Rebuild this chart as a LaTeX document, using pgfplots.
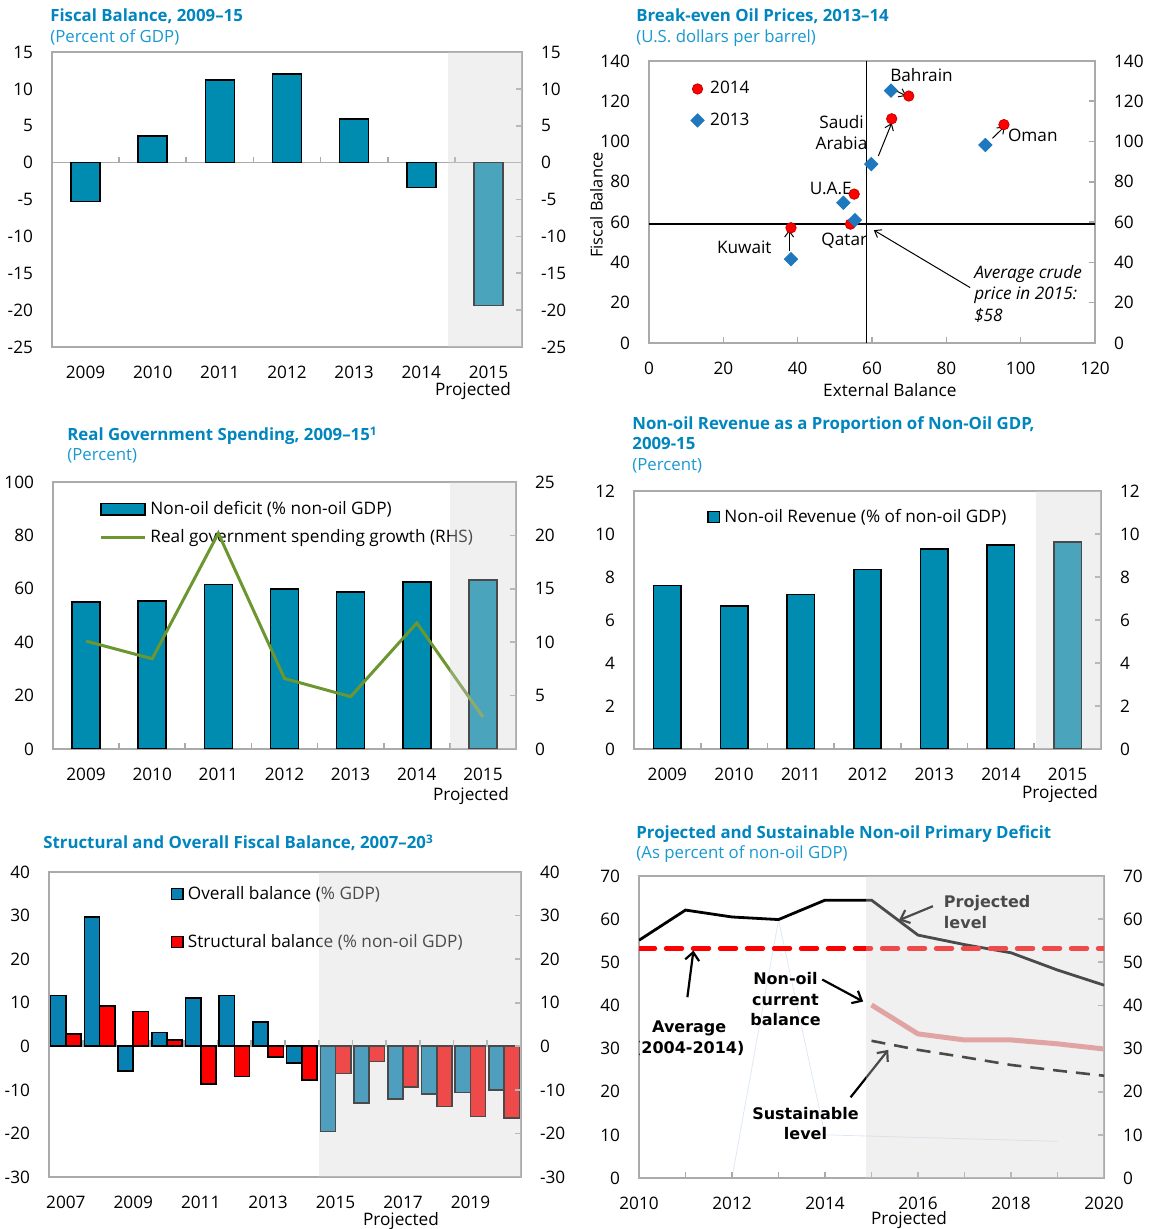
\documentclass[border=0pt]{standalone}
\usepackage{fontspec}
\setmainfont{Open Sans}
\newfontfamily\annfont{DejaVu Sans}
\usepackage{pgfplots}
\pgfplotsset{compat=1.18}
\usetikzlibrary{arrows.meta}

\definecolor{barblue}{RGB}{0,139,176}
\definecolor{barblue2}{RGB}{8,130,178}
\definecolor{axgray}{RGB}{170,170,170}
\definecolor{titleblue}{RGB}{0,133,190}
\definecolor{subblue}{RGB}{25,152,208}
\definecolor{shadec}{RGB}{212,212,212}
\definecolor{sgreen}{RGB}{108,150,48}
\definecolor{dblue}{RGB}{30,120,190}
\definecolor{pinkl}{RGB}{232,139,139}
\definecolor{faint}{RGB}{222,232,244}
\definecolor{dred}{RGB}{200,0,0}

\newcommand{\tfont}{\fontsize{8.4}{10}\selectfont\bfseries}
\newcommand{\sfont}{\fontsize{8.4}{10}\selectfont}
\newcommand{\afont}{\annfont\bfseries\fontsize{8}{10.3}\selectfont}

\tikzset{mylegend/.style={draw=none, fill=none, inner sep=0pt, font=\fontsize{8.6}{10}\selectfont}}

\pgfplotsset{
  base/.style={scale only axis, anchor=south west, font=\fontsize{8.6}{10}\selectfont,
    /pgf/number format/assume math mode=true, tick align=inside},
  mainax/.style={base, axis line style={axgray, line width=0.8pt}, major tick length=0pt,
    minor tick length=0pt, yticklabel pos=left, ytick pos=left, xtick pos=bottom,
    yticklabel style={xshift=-6pt}, xticklabel style={yshift=-6pt}, legend cell align=left},
  rightax/.style={base, axis line style={draw=none}, major tick length=3pt,
    tick style={axgray, line width=0.8pt}, ytick pos=right, yticklabel pos=right,
    yticklabel style={xshift=6pt}, xtick pos=bottom, xtick=\empty, xticklabels={}},
  widebar/.style={legend image code/.code={\draw[##1] (0pt,-2.9pt) rectangle (22pt,2.9pt);}},
  sqbar/.style={legend image code/.code={\draw[##1] (0pt,-2.7pt) rectangle (5.8pt,2.7pt);}},
  wideline/.style={legend image code/.code={\draw[##1] (0pt,0pt) -- (22pt,0pt);}},
  dotleg/.style={legend image code/.code={\draw[mark repeat=2,mark phase=2,##1] plot coordinates {(0pt,0pt) (3pt,0pt) (6pt,0pt)};}},
}
\tikzset{shade/.style={fill=shadec, fill opacity=0.353, draw=none}}

\begin{document}
\begin{tikzpicture}
\useasboundingbox (0,0) rectangle (574pt,614.5pt);

% ---------- titles ----------
\node[anchor=base west, inner sep=0pt, text=titleblue, font=\tfont] at (25pt,603.5pt) {Fiscal Balance, 2009--15};
\node[anchor=base west, inner sep=0pt, text=subblue, font=\sfont] at (25pt,593pt) {(Percent of GDP)};
\node[anchor=base west, inner sep=0pt, text=titleblue, font=\tfont] at (318pt,603.5pt) {Break-even Oil Prices, 2013--14};
\node[anchor=base west, inner sep=0pt, text=subblue, font=\sfont] at (318pt,593pt) {(U.S. dollars per barrel)};
\node[anchor=base west, inner sep=0pt, text=titleblue, font=\tfont] at (33.5pt,394pt) {Real Government Spending, 2009--15\textsuperscript{1}};
\node[anchor=base west, inner sep=0pt, text=subblue, font=\sfont] at (33.5pt,384pt) {(Percent)};
\node[anchor=base west, inner sep=0pt, text=titleblue, font=\tfont] at (316pt,399.5pt) {Non-oil Revenue as a Proportion of Non-Oil GDP,};
\node[anchor=base west, inner sep=0pt, text=titleblue, font=\tfont] at (316pt,389.5pt) {2009-15};
\node[anchor=base west, inner sep=0pt, text=subblue, font=\sfont] at (316pt,379pt) {(Percent)};
\node[anchor=base west, inner sep=0pt, text=titleblue, font=\tfont] at (21.5pt,190pt) {Structural and Overall Fiscal Balance, 2007--20\textsuperscript{3}};
\node[anchor=base west, inner sep=0pt, text=titleblue, font=\tfont] at (318pt,195pt) {Projected and Sustainable Non-oil Primary Deficit};
\node[anchor=base west, inner sep=0pt, text=subblue, font=\sfont] at (318pt,185pt) {(As percent of non-oil GDP)};

% ---------- Panel 1 ----------
\begin{axis}[mainax, at={(26pt,441pt)}, width=235pt, height=147.5pt,
  xmin=-0.5, xmax=6.5, ymin=-25, ymax=15, ytick={-25,-20,...,15},
  xtick={0,...,6}, xticklabels={2009,2010,2011,2012,2013,2014,2015}]
\draw[axgray, line width=0.8pt] (axis cs:-0.5,0) -- (axis cs:6.5,0);
\pgfplotsinvokeforeach{0.5,1.5,2.5,3.5,4.5,5.5}{\draw[axgray, line width=0.8pt] (axis cs:#1,0) -- ++(0pt,3pt);}
\addplot[ybar, bar width=14.5pt, fill=barblue, draw=black, line width=0.8pt]
  coordinates {(0,-5.3) (1,3.6) (2,11.2) (3,12.0) (4,5.9) (5,-3.4) (6,-19.4)};
\end{axis}
\begin{axis}[rightax, at={(26pt,441pt)}, width=235pt, height=147.5pt,
  xmin=-0.5, xmax=6.5, ymin=-25, ymax=15, ytick={-25,-20,...,15}]
\addplot[draw=none] coordinates {(0,0)};
\fill[shade] (axis cs:5.4,-25) rectangle (axis cs:6.5,15);
\end{axis}
\node[font=\fontsize{8.6}{10}\selectfont] at (236.5pt,419pt) {Projected};

% ---------- Panel 2 ----------
\begin{axis}[mainax, at={(324.5pt,443pt)}, width=223pt, height=141pt,
  xmin=0, xmax=120, ymin=0, ymax=140, xtick={0,20,...,120}, ytick={0,20,...,140},
  xlabel={External Balance}, ylabel={Fiscal Balance},
  xlabel style={at={(axis description cs:0.540,-0.1667)}, anchor=center},
  ylabel style={at={(axis description cs:-0.118,0.49)}, anchor=center, font=\fontsize{8.2}{10}\selectfont},
  legend style={mylegend, at={(0.093,0.845)}, anchor=west, row sep=4pt, column sep=1pt}]
\draw[black, line width=0.9pt] (axis cs:58.5,0) -- (axis cs:58.5,140);
\draw[black, line width=0.9pt] (axis cs:0,59) -- (axis cs:120,59);
\addplot[only marks, mark=*, mark size=2.6pt, mark options={fill=red, draw=dred, line width=0.4pt}, dotleg]
  coordinates {(69.9,122.6) (65.3,111.3) (95.5,108.4) (55.2,73.9) (54.2,59.0) (38.2,57.2)};
\addlegendentry{2014}
\addplot[only marks, mark=square*, mark size=2.35pt, mark options={rotate=45, fill=dblue, draw=dblue}, dotleg]
  coordinates {(65.1,125.3) (59.8,88.8) (90.5,98.3) (52.3,69.6) (55.4,61.0) (38.2,41.6)};
\addlegendentry{2013}
\node[anchor=west, inner sep=0pt] at (axis cs:64.8,133.1) {Bahrain};
\node[align=center, inner sep=0pt, font=\fontsize{8.6}{10.5}\selectfont] at (axis cs:51.8,104.6) {Saudi\\Arabia};
\node[anchor=west, inner sep=0pt] at (axis cs:96.5,103.2) {Oman};
\node[anchor=west, inner sep=0pt] at (axis cs:43.2,76.7) {U.A.E.};
\node[anchor=west, inner sep=0pt] at (axis cs:46.3,50.7) {Qatar};
\node[anchor=west, inner sep=0pt] at (axis cs:18.2,47.7) {Kuwait};
\node[anchor=west, inner sep=0pt, align=left, font=\fontsize{8.6}{10.7}\selectfont\itshape] at (axis cs:87.4,24.5) {Average crude\\price in 2015:\\\$58};
\draw[-{Straight Barb[length=3pt,width=4.5pt]}, line width=0.5pt] (axis cs:65.3,126.3) -- (axis cs:69.2,122.7);
\draw[-{Straight Barb[length=3pt,width=4.5pt]}, line width=0.5pt] (axis cs:61.7,92.8) -- (axis cs:65.3,109.2);
\draw[-{Straight Barb[length=3pt,width=4.5pt]}, line width=0.5pt] (axis cs:92.4,101.6) -- (axis cs:95.7,107.5);
\draw[-{Straight Barb[length=3pt,width=4.5pt]}, line width=0.5pt] (axis cs:37.7,45.5) -- (axis cs:37.7,56.0);
\draw[-{Straight Barb[length=3pt,width=4.5pt]}, line width=0.5pt] (axis cs:86.4,27.5) -- (axis cs:60.5,56.0);
\end{axis}
\begin{axis}[rightax, at={(324.5pt,443pt)}, width=223pt, height=141pt,
  xmin=0, xmax=120, ymin=0, ymax=140, ytick={0,20,...,140}, xtick={0,20,...,120}]
\addplot[draw=none] coordinates {(0,0)};
\end{axis}

% ---------- Panel 3 ----------
\begin{axis}[mainax, at={(26.5pt,240pt)}, width=231.5pt, height=133.5pt,
  xmin=-0.5, xmax=6.5, ymin=0, ymax=100, ytick={0,20,...,100},
  xtick={0,...,6}, xticklabels={2009,2010,2011,2012,2013,2014,2015},
  legend style={mylegend, at={(0.0994,0.845)}, anchor=west, row sep=2pt, column sep=0pt}]
\addplot[ybar, bar width=14pt, fill=barblue, draw=black, line width=0.8pt, widebar]
  coordinates {(0,55.0) (1,55.5) (2,61.6) (3,59.9) (4,58.9) (5,62.6) (6,63.2)};
\addlegendentry{Non-oil deficit (\% non-oil GDP)}
\addlegendimage{sgreen, line width=1.5pt, wideline}
\addlegendentry{Real government spending growth (RHS)}
\end{axis}
\begin{axis}[rightax, at={(26.5pt,240pt)}, width=231.5pt, height=133.5pt,
  xmin=-0.5, xmax=6.5, ymin=0, ymax=25, ytick={0,5,...,25}, xtick={0.5,1.5,...,5.5}]
\addplot[sgreen, line width=1.5pt] coordinates {(0,10.1) (1,8.45) (2,20.2) (3,6.6) (4,4.9) (5,11.8) (6,3.0)};
\fill[shade] (axis cs:5.5,0) rectangle (axis cs:6.5,25);
\end{axis}
\node[font=\fontsize{8.6}{10}\selectfont] at (235.5pt,216.5pt) {Projected};

% ---------- Panel 4 ----------
\begin{axis}[mainax, at={(317pt,240pt)}, width=233.5pt, height=129pt,
  xmin=-0.5, xmax=6.5, ymin=0, ymax=12, ytick={0,2,...,12},
  xtick={0,...,6}, xticklabels={2009,2010,2011,2012,2013,2014,2015},
  legend style={mylegend, at={(0.156,0.899)}, anchor=west, column sep=0pt}]
\addplot[ybar, bar width=13.75pt, fill=barblue, draw=black, line width=0.8pt, sqbar]
  coordinates {(0,7.6) (1,6.64) (2,7.19) (3,8.34) (4,9.30) (5,9.49) (6,9.63)};
\addlegendentry{Non-oil Revenue (\% of non-oil GDP)}
\end{axis}
\begin{axis}[rightax, at={(317pt,240pt)}, width=233.5pt, height=129pt,
  xmin=-0.5, xmax=6.5, ymin=0, ymax=12, ytick={0,2,...,12}, xtick={0.5,1.5,...,5.5}]
\addplot[draw=none] coordinates {(0,0)};
\fill[shade] (axis cs:5.53,0) rectangle (axis cs:6.5,12);
\end{axis}
\node[font=\fontsize{8.6}{10}\selectfont] at (530pt,217.5pt) {Projected};

% ---------- Panel 5 ----------
\begin{axis}[mainax, at={(24.5pt,26pt)}, width=236pt, height=152.5pt,
  xmin=-0.5, xmax=13.5, ymin=-30, ymax=40, ytick={-30,-20,...,40},
  xtick={0,2,...,12}, xticklabels={2007,2009,2011,2013,2015,2017,2019},
  ybar=0pt, bar width=7.6pt,
  legend style={mylegend, at={(0.257,0.849)}, anchor=west, row sep=12pt, column sep=0pt}]
\draw[axgray, line width=0.8pt] (axis cs:-0.5,0) -- (axis cs:13.5,0);
\pgfplotsinvokeforeach{0.5,1.5,2.5,3.5,4.5,5.5,6.5,7.5,8.5,9.5,10.5,11.5,12.5}{\draw[axgray, line width=0.8pt] (axis cs:#1,0) -- ++(0pt,3pt);}
\addplot[fill=barblue2, draw=black, line width=0.8pt, sqbar]
  coordinates {(0,11.7) (1,29.7) (2,-5.7) (3,3.2) (4,11.1) (5,11.7) (6,5.6) (7,-3.85) (8,-19.6) (9,-13.0) (10,-12.1) (11,-11.0) (12,-10.6) (13,-10.0)};
\addlegendentry{Overall balance (\% GDP)}
\addplot[fill=red, draw=black, line width=0.8pt, sqbar]
  coordinates {(0,2.85) (1,9.3) (2,8.0) (3,1.5) (4,-8.6) (5,-6.9) (6,-2.5) (7,-7.7) (8,-6.2) (9,-3.5) (10,-9.3) (11,-13.8) (12,-16.1) (13,-16.4)};
\addlegendentry{Structural balance (\% non-oil GDP)}
\end{axis}
\begin{axis}[rightax, at={(24.5pt,26pt)}, width=236pt, height=152.5pt,
  xmin=-0.5, xmax=13.5, ymin=-30, ymax=40, ytick={-30,-20,...,40}]
\addplot[draw=none] coordinates {(0,0)};
\fill[shade] (axis cs:7.52,-30) rectangle (axis cs:13.5,40);
\end{axis}
\node[font=\fontsize{8.6}{10}\selectfont] at (200.5pt,4pt) {Projected};

% ---------- Panel 6 ----------
\begin{axis}[mainax, at={(319.5pt,25.5pt)}, width=232.5pt, height=151pt,
  xmin=2010, xmax=2020, ymin=0, ymax=70, ytick={0,10,...,70},
  xtick={2010,2012,...,2020}, xticklabels={2010,2012,2014,2016,2018,2020}]
\addplot[faint, line width=0.4pt] coordinates {(2012,0) (2013,59.8) (2014,10.0) (2019,8.5)};
\addplot[black, line width=1.4pt] coordinates {(2010,55.1) (2011,62.1) (2012,60.5) (2013,59.9) (2014,64.4) (2015,64.4) (2016,56.3) (2017,54.1) (2018,52.2) (2019,48.2) (2020,44.7)};
\addplot[red, line width=2.2pt, dash pattern=on 8pt off 5.5pt, line cap=round] coordinates {(2010,53.2) (2020,53.2)};
\addplot[pinkl, line width=2.5pt] coordinates {(2015,40.1) (2016,33.4) (2017,32.0) (2018,32.0) (2019,31.1) (2020,29.9)};
\addplot[black, line width=1.3pt, dash pattern=on 7pt off 4.5pt] coordinates {(2015,31.8) (2016,29.7) (2017,28.0) (2018,26.2) (2019,24.9) (2020,23.7)};
\node[anchor=west, align=left, inner sep=0pt, font=\afont] at (axis cs:2016.55,61.7) {Projected\\level};
\node[align=center, inner sep=0pt, font=\afont] at (axis cs:2013.15,41.4) {Non-oil\\current\\balance};
\node[align=center, inner sep=0pt, font=\afont] at (axis cs:2011.08,32.4) {Average\\(2004-2014)};
\node[align=center, inner sep=0pt, font=\afont] at (axis cs:2013.58,12.6) {Sustainable\\level};
\draw[-{Straight Barb[length=4pt,width=7pt]}, line width=1.1pt] (axis cs:2016.32,63.0) -- (axis cs:2015.59,59.75);
\draw[-{Straight Barb[length=4pt,width=7pt]}, line width=1.1pt] (axis cs:2013.94,46.0) -- (axis cs:2014.82,40.9);
\draw[-{Straight Barb[length=4pt,width=7pt]}, line width=1.1pt] (axis cs:2011.04,41.9) -- (axis cs:2011.17,52.7);
\draw[-{Straight Barb[length=4pt,width=7pt]}, line width=1.1pt] (axis cs:2014.55,18.7) -- (axis cs:2015.36,29.7);
\end{axis}
\begin{axis}[rightax, at={(319.5pt,25.5pt)}, width=232.5pt, height=151pt,
  xmin=2010, xmax=2020, ymin=0, ymax=70, ytick={0,10,...,70}, xtick={2010,2011,...,2020}]
\addplot[draw=none] coordinates {(2010,0)};
\fill[shade] (axis cs:2014.88,0) rectangle (axis cs:2020,70);
\end{axis}
\node[font=\fontsize{8.6}{10}\selectfont] at (454.5pt,4.3pt) {Projected};
\end{tikzpicture}
\end{document}
